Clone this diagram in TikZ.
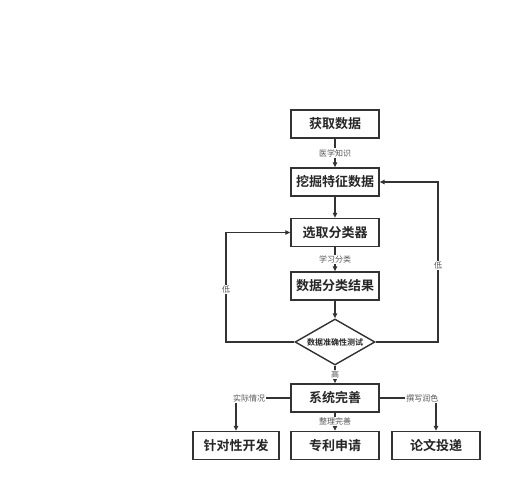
\documentclass[tikz,border=0pt]{standalone}
\usepackage{fontspec}
\newfontfamily\cjk{Noto Sans CJK SC}
\newfontfamily\cjkb{Noto Sans CJK SC Bold}
\usetikzlibrary{shapes.geometric,arrows.meta}
\definecolor{ln}{HTML}{333333}
\definecolor{lb}{HTML}{555555}
\tikzset{
  box/.style={draw=ln,line width=1.4pt,fill=white,inner sep=0pt,minimum width=88pt,minimum height=28pt,font=\cjkb\fontsize{13}{15}\selectfont,text=black!85},
  dia/.style={draw=ln,line width=1.4pt,fill=white,shape=diamond,aspect=1.74,inner sep=0pt,minimum width=80pt,minimum height=46pt,font=\cjkb\fontsize{8}{9}\selectfont,text=black!85},
  conn/.style={draw=ln,line width=1.2pt,-{Triangle[length=5pt,width=4.5pt]}},
  plain/.style={draw=ln,line width=1.2pt},
  lbl/.style={fill=white,inner sep=1pt,font=\cjk\fontsize{8}{9}\selectfont,text=lb}
}
\begin{document}
\begin{tikzpicture}[x=1pt,y=-1pt]
\useasboundingbox (0,0) rectangle (519,500);
\node[box] (a) at (335,124) {获取数据};
\node[box] (b) at (335,182) {挖掘特征数据};
\node[box] (c) at (335,232.5) {选取分类器};
\node[box] (d) at (335,286) {数据分类结果};
\node[dia] (e) at (335,342) {数据准确性测试};
\node[box] (f) at (335,398) {系统完善};
\node[box,minimum width=86pt] (g) at (236,445.5) {针对性开发};
\node[box] (h) at (335,445.5) {专利申请};
\node[box] (i) at (436,445.5) {论文投递};
\coordinate (lc) at (226,342);
\coordinate (rc) at (438,342);
\draw[conn] (a) -- node[lbl]{医学知识} (b);
\draw[conn] (b) -- (c);
\draw[conn] (c) -- node[lbl]{学习分类} (d);
\draw[conn] (d) -- (e);
\draw[conn] (e.west) -- (lc) |- node[lbl,pos=0.24]{低} (c.west);
\draw[conn] (e.east) -- (rc) |- node[lbl,pos=0.24]{低} (b.east);
\draw[conn] (e.south) -- node[lbl]{高} (f.north);
\draw[conn] (f.west) -| node[lbl,pos=0.38]{实际情况} (g.north);
\draw[conn] (f.east) -| node[lbl,pos=0.38]{撰写润色} (i.north);
\draw[conn] (f.south) -- node[lbl]{整理完善} (h.north);
\end{tikzpicture}
\end{document}
